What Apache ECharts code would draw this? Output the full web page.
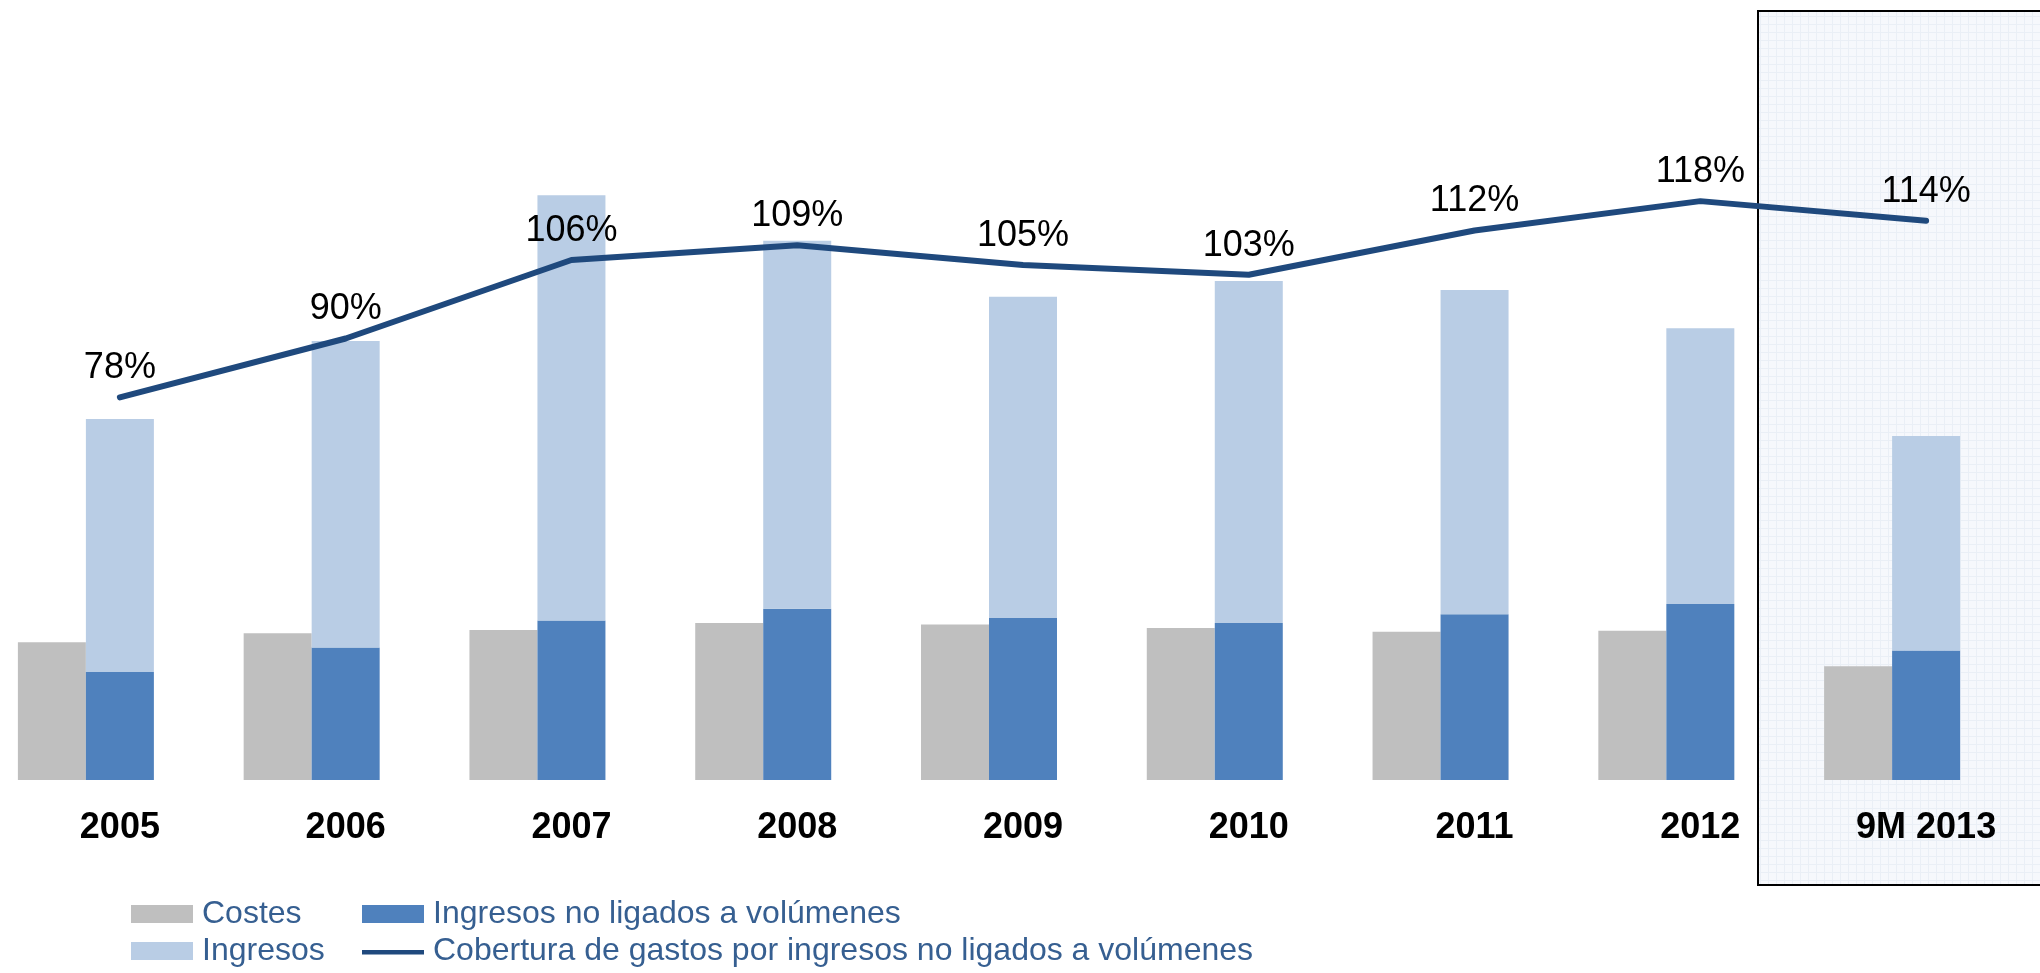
<!DOCTYPE html>
<html>
<head>
<meta charset="utf-8">
<title>Cobertura de gastos</title>
<script src="https://cdn.jsdelivr.net/npm/echarts@6/dist/echarts.min.js"></script>
<style>
  html, body { margin: 0; padding: 0; background: #fff; }
  #chart { width: 2040px; height: 973px; }
</style>
</head>
<body>
<div id="chart"></div>
<script>
// datos
var categories = ['2005', '2006', '2007', '2008', '2009', '2010', '2011', '2012', '9M 2013'];
var costes = [281, 299, 306, 320, 317, 310, 302, 304, 232];
var noLigados = [220, 270, 325, 349, 330, 320, 338, 359, 264];
var ingresos = [736, 895, 1192, 1099, 985, 1017, 999, 921, 701];
var cobertura = [78, 90, 106, 109, 105, 103, 112, 118, 114];

var FONT = 'Liberation Sans, Arial, sans-serif';

// tramo claro = ingresos totales menos los no ligados (apilado)
var restoIngresos = ingresos.map(function (v, i) { return v - noLigados[i]; });

// trama de cuadricula del recuadro de 9M 2013
function gridPattern() {
  var c = document.createElement('canvas');
  c.width = 8; c.height = 8;
  var ctx = c.getContext('2d');
  ctx.fillStyle = '#f6f8fc';
  ctx.fillRect(0, 0, 8, 8);
  ctx.fillStyle = '#eaeff6';
  ctx.fillRect(0, 0, 8, 1);
  ctx.fillRect(0, 0, 1, 8);
  return c;
}

var legendText = { fontSize: 32, lineHeight: 30, color: '#365f91', fontFamily: FONT, padding: [0, 0, 0, 4] };

var chart = echarts.init(document.getElementById('chart'));
chart.setOption({
  animation: false,
  grid: [
    { left: -27, width: 2032, top: 0, height: 780, outerBoundsMode: 'none' },
    { left: 7, width: 2032, top: 0, height: 780, outerBoundsMode: 'none' }
  ],
  graphic: [{
    type: 'rect',
    z: 0,
    shape: { x: 1758, y: 11, width: 320, height: 874 },
    style: { fill: { image: gridPattern(), repeat: 'repeat' }, stroke: '#000', lineWidth: 2 }
  }],
  legend: [
    {
      orient: 'vertical',
      left: 131, top: 898,
      padding: 0,
      itemWidth: 62, itemHeight: 18, itemGap: 5,
      icon: 'rect',
      textStyle: legendText,
      data: ['Costes', 'Ingresos']
    },
    {
      orient: 'vertical',
      left: 362, top: 898,
      padding: 0,
      itemWidth: 62, itemHeight: 18, itemGap: 5,
      textStyle: legendText,
      data: [
        { name: 'Ingresos no ligados a volúmenes', icon: 'rect' },
        { name: 'Cobertura de gastos por ingresos no ligados a volúmenes', icon: 'path://M0,0 M62,18 M0,8 L62,8 L62,12.5 L0,12.5 Z' }
      ]
    }
  ],
  xAxis: [
    {
      type: 'category', gridIndex: 0, data: categories,
      axisLine: { show: false }, axisTick: { show: false }, axisLabel: { show: false }
    },
    {
      type: 'category', gridIndex: 1, data: categories,
      axisLine: { show: false }, axisTick: { show: false },
      axisLabel: { fontSize: 36, fontWeight: 'bold', color: '#000', fontFamily: FONT, margin: 30 }
    }
  ],
  yAxis: [
    { type: 'value', gridIndex: 0, min: 0, max: 1590, show: false },
    { type: 'value', gridIndex: 1, min: 0, max: 159, show: false }
  ],
  series: [
    {
      name: 'Costes', type: 'bar', xAxisIndex: 0, yAxisIndex: 0,
      barWidth: 68, barGap: '0%',
      itemStyle: { color: '#bfbfbf' },
      data: costes
    },
    {
      name: 'Ingresos no ligados a volúmenes', type: 'bar', stack: 'ing',
      xAxisIndex: 0, yAxisIndex: 0, barWidth: 68,
      itemStyle: { color: '#4f81bd' },
      data: noLigados
    },
    {
      name: 'Ingresos', type: 'bar', stack: 'ing',
      xAxisIndex: 0, yAxisIndex: 0, barWidth: 68,
      itemStyle: { color: '#b9cde5' },
      data: restoIngresos
    },
    {
      name: 'Cobertura de gastos por ingresos no ligados a volúmenes', type: 'line',
      xAxisIndex: 1, yAxisIndex: 1,
      symbol: 'circle', symbolSize: 0, showSymbol: true,
      z: 5,
      lineStyle: { color: '#1f497d', width: 6, cap: 'round' },
      itemStyle: { color: '#1f497d' },
      label: {
        show: true, position: 'top', distance: 11,
        formatter: '{c}%', fontSize: 36, color: '#000', fontFamily: FONT
      },
      data: cobertura
    }
  ]
});
</script>
</body>
</html>
